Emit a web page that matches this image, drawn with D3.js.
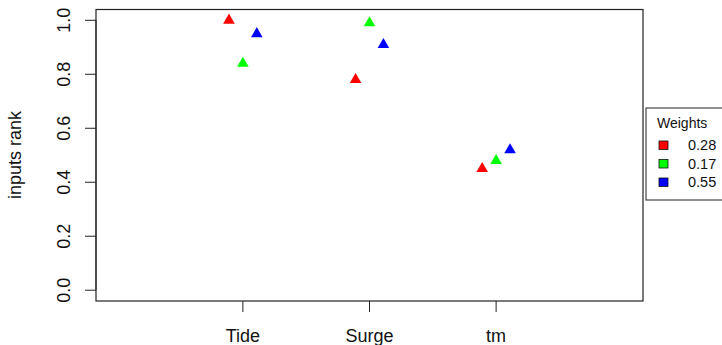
<!DOCTYPE html>
<html>
<head>
<meta charset="utf-8">
<script src="https://cdn.jsdelivr.net/npm/d3@7"></script>
<style>
  body { margin: 0; background: #fff; }
  svg { display: block; font-family: "Liberation Sans", Arial, sans-serif; }
</style>
</head>
<body>
<div id="chart"></div>
<script>
// chart data
var categories = ["Tide", "Surge", "tm"];
var weightLabels = ["0.28", "0.17", "0.55"];
var seriesColors = ["#ff0000", "#00ff00", "#0000ff"];
var redRanks = [1.00, 0.78, 0.45];
var greenRanks = [0.84, 0.99, 0.48];
var blueRanks = [0.95, 0.91, 0.52];
var yTicks = [0, 0.2, 0.4, 0.6, 0.8, 1.0];

var series = [redRanks, greenRanks, blueRanks];
var offsets = [-0.11, 0, 0.11];

var W = 722, H = 345;
var box = {left: 96, right: 643, top: 9.5, bottom: 301};

var svg = d3.select("#chart").append("svg")
    .attr("width", W).attr("height", H);

// R-like xlim c(0,4), ylim c(0,1) with 4% extension
var x = d3.scaleLinear().domain([-0.16, 4.16]).range([box.left, box.right]);
var y = d3.scaleLinear().domain([-0.04, 1.04]).range([box.bottom, box.top]);

// plot frame
svg.append("rect")
    .attr("x", box.left).attr("y", box.top)
    .attr("width", box.right - box.left).attr("height", box.bottom - box.top)
    .attr("fill", "none").attr("stroke", "#222").attr("stroke-width", 1.2);

// y axis (R style: axis line from 0 to 1 only, rotated labels)
var yAxis = svg.append("g").attr("transform", "translate(" + box.left + ",0)");
yAxis.append("line")
    .attr("x1", 0).attr("x2", 0)
    .attr("y1", y(0)).attr("y2", y(1))
    .attr("stroke", "#222");
yTicks.forEach(function (t) {
    yAxis.append("line")
        .attr("x1", -11).attr("x2", 0)
        .attr("y1", y(t)).attr("y2", y(t))
        .attr("stroke", "#222");
    yAxis.append("text")
        .attr("transform", "translate(-26," + y(t) + ") rotate(-90)")
        .attr("text-anchor", "middle")
        .attr("font-size", 18)
        .attr("fill", "#111")
        .text(t.toFixed(1));
});

// y axis title
svg.append("text")
    .attr("transform", "translate(21,155) rotate(-90)")
    .attr("text-anchor", "middle")
    .attr("font-size", 18)
    .attr("fill", "#111")
    .text("inputs rank");

// x axis ticks at category positions 1..3
var xAxis = svg.append("g").attr("transform", "translate(0," + box.bottom + ")");
categories.forEach(function (c, i) {
    xAxis.append("line")
        .attr("x1", x(i + 1)).attr("x2", x(i + 1))
        .attr("y1", 0).attr("y2", 11)
        .attr("stroke", "#222");
    xAxis.append("text")
        .attr("x", x(i + 1)).attr("y", 41)
        .attr("text-anchor", "middle")
        .attr("font-size", 18)
        .attr("fill", "#111")
        .text(c);
});

// filled triangles like R pch 17
var r = 6.7;
function triangle(cx, cy) {
    var xc = r * Math.sqrt(3) / 2;
    return "M" + cx + "," + (cy - r) +
        "L" + (cx + xc) + "," + (cy + r / 2) +
        "L" + (cx - xc) + "," + (cy + r / 2) + "Z";
}

series.forEach(function (vals, s) {
    svg.append("g").selectAll("path")
        .data(vals)
        .enter().append("path")
        .attr("d", function (d, i) { return triangle(x(i + 1 + offsets[s]), y(d)); })
        .attr("fill", seriesColors[s]);
});

// legend (runs off the right edge like the original)
var lg = svg.append("g").attr("transform", "translate(646,108)");
lg.append("rect")
    .attr("x", 0).attr("y", 0)
    .attr("width", 90).attr("height", 92)
    .attr("fill", "#fff").attr("stroke", "#222").attr("stroke-width", 1);
lg.append("text")
    .attr("x", 11).attr("y", 20)
    .attr("font-size", 14)
    .attr("fill", "#111")
    .text("Weights");
weightLabels.forEach(function (w, i) {
    var cy = 37 + i * 18.5;
    lg.append("rect")
        .attr("x", 13).attr("y", cy - 4)
        .attr("width", 9).attr("height", 8.5)
        .attr("fill", seriesColors[i])
        .attr("stroke", "#111").attr("stroke-width", 0.8);
    lg.append("text")
        .attr("x", 42).attr("y", cy + 5)
        .attr("font-size", 14.5)
        .attr("fill", "#111")
        .text(w);
});
</script>
</body>
</html>
